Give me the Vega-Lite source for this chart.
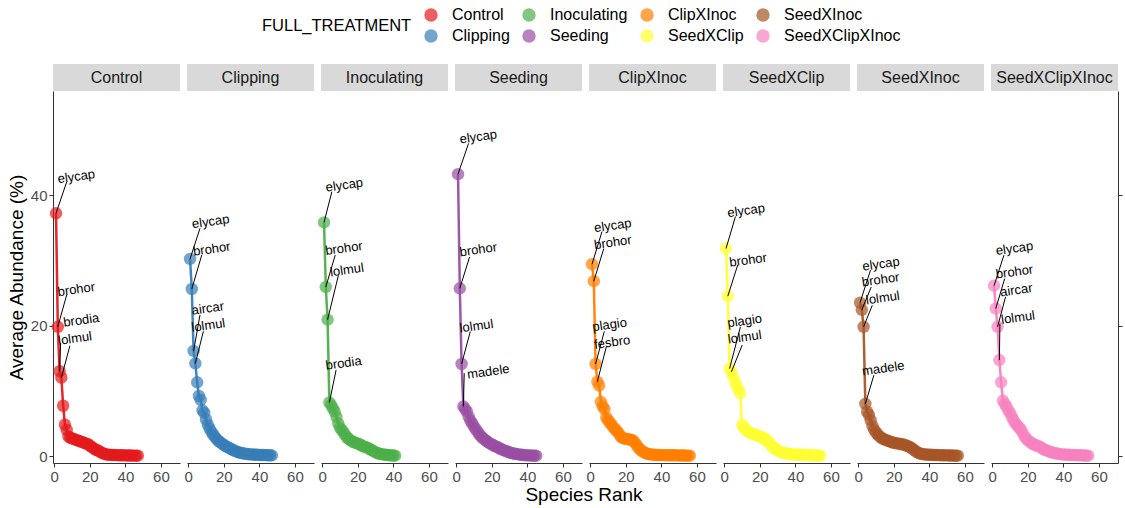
{
  "$schema": "https://vega.github.io/schema/vega-lite/v6.json",
  "padding": {"left": 7, "top": 7, "right": 0, "bottom": 0},
  "config": {
    "font": "Liberation Sans",
    "view": {"stroke": null},
    "axis": {"grid": false, "domainColor": "#333333", "tickColor": "#333333", "labelColor": "#4d4d4d", "labelFontSize": 15, "titleFontSize": 19, "titleFontWeight": "normal", "titleColor": "#000000", "tickSize": 4, "labelPadding": 2},
    "legend": {"labelFontSize": 16, "titleFontSize": 16.5, "titleFontWeight": "normal", "labelColor": "#000000", "titleColor": "#000000"}
  },
  "datasets": {
    "strips": [
      {"treatment": "Control"}, {"treatment": "Clipping"}, {"treatment": "Inoculating"}, {"treatment": "Seeding"},
      {"treatment": "ClipXInoc"}, {"treatment": "SeedXClip"}, {"treatment": "SeedXInoc"}, {"treatment": "SeedXClipXInoc"}
    ],
    "ranks": [
      {"treatment":"Control","rank":1,"abundance":37.2,"species":"elycap","label_x":12.4,"label_y":42.8,"seg_x":7.0,"seg_y":42.0},
      {"treatment":"Control","rank":2,"abundance":19.8,"species":"brohor","label_x":12.4,"label_y":25.5,"seg_x":7.0,"seg_y":24.7},
      {"treatment":"Control","rank":3,"abundance":13.0,"species":"brodia","label_x":15.2,"label_y":20.8,"seg_x":3.6,"seg_y":17.3},
      {"treatment":"Control","rank":4,"abundance":12.0,"species":"lolmul","label_x":11.7,"label_y":18.0,"seg_x":8.8,"seg_y":16.9},
      {"treatment":"Control","rank":5,"abundance":7.7},{"treatment":"Control","rank":6,"abundance":4.8},{"treatment":"Control","rank":7,"abundance":4.0},{"treatment":"Control","rank":8,"abundance":3.0},{"treatment":"Control","rank":9,"abundance":2.8},{"treatment":"Control","rank":10,"abundance":2.7},
      {"treatment":"Control","rank":11,"abundance":2.6},{"treatment":"Control","rank":12,"abundance":2.5},{"treatment":"Control","rank":13,"abundance":2.4},{"treatment":"Control","rank":14,"abundance":2.3},{"treatment":"Control","rank":15,"abundance":2.2},{"treatment":"Control","rank":16,"abundance":2.1},{"treatment":"Control","rank":17,"abundance":2.0},{"treatment":"Control","rank":18,"abundance":1.9},{"treatment":"Control","rank":19,"abundance":1.8},{"treatment":"Control","rank":20,"abundance":1.6},
      {"treatment":"Control","rank":21,"abundance":1.4},{"treatment":"Control","rank":22,"abundance":1.2},{"treatment":"Control","rank":23,"abundance":1.0},{"treatment":"Control","rank":24,"abundance":0.9},{"treatment":"Control","rank":25,"abundance":0.8},{"treatment":"Control","rank":26,"abundance":0.6},{"treatment":"Control","rank":27,"abundance":0.45},{"treatment":"Control","rank":28,"abundance":0.35},{"treatment":"Control","rank":29,"abundance":0.25},{"treatment":"Control","rank":30,"abundance":0.2},
      {"treatment":"Control","rank":31,"abundance":0.18},{"treatment":"Control","rank":32,"abundance":0.17},{"treatment":"Control","rank":33,"abundance":0.16},{"treatment":"Control","rank":34,"abundance":0.15},{"treatment":"Control","rank":35,"abundance":0.14},{"treatment":"Control","rank":36,"abundance":0.13},{"treatment":"Control","rank":37,"abundance":0.12},{"treatment":"Control","rank":38,"abundance":0.11},{"treatment":"Control","rank":39,"abundance":0.1},{"treatment":"Control","rank":40,"abundance":0.1},
      {"treatment":"Control","rank":41,"abundance":0.09},{"treatment":"Control","rank":42,"abundance":0.08},{"treatment":"Control","rank":43,"abundance":0.07},{"treatment":"Control","rank":44,"abundance":0.06},{"treatment":"Control","rank":45,"abundance":0.06},{"treatment":"Control","rank":46,"abundance":0.05},{"treatment":"Control","rank":47,"abundance":0.05},

      {"treatment":"Clipping","rank":1,"abundance":30.2,"species":"elycap","label_x":12.6,"label_y":35.9,"seg_x":6.6,"seg_y":34.9},
      {"treatment":"Clipping","rank":2,"abundance":25.6,"species":"brohor","label_x":13.2,"label_y":31.7,"seg_x":7.6,"seg_y":30.8},
      {"treatment":"Clipping","rank":3,"abundance":16.1,"species":"aircar","label_x":11.0,"label_y":22.6,"seg_x":6.6,"seg_y":21.6},
      {"treatment":"Clipping","rank":4,"abundance":14.2,"species":"lolmul","label_x":11.3,"label_y":20.0,"seg_x":8.5,"seg_y":19.1},
      {"treatment":"Clipping","rank":5,"abundance":11.3},{"treatment":"Clipping","rank":6,"abundance":9.2},{"treatment":"Clipping","rank":7,"abundance":8.6},{"treatment":"Clipping","rank":8,"abundance":7.0},{"treatment":"Clipping","rank":9,"abundance":6.6},{"treatment":"Clipping","rank":10,"abundance":5.6},
      {"treatment":"Clipping","rank":11,"abundance":4.8},{"treatment":"Clipping","rank":12,"abundance":4.2},{"treatment":"Clipping","rank":13,"abundance":3.7},{"treatment":"Clipping","rank":14,"abundance":3.3},{"treatment":"Clipping","rank":15,"abundance":2.9},{"treatment":"Clipping","rank":16,"abundance":2.6},{"treatment":"Clipping","rank":17,"abundance":2.3},{"treatment":"Clipping","rank":18,"abundance":2.1},{"treatment":"Clipping","rank":19,"abundance":1.9},{"treatment":"Clipping","rank":20,"abundance":1.7},
      {"treatment":"Clipping","rank":21,"abundance":1.5},{"treatment":"Clipping","rank":22,"abundance":1.4},{"treatment":"Clipping","rank":23,"abundance":1.2},{"treatment":"Clipping","rank":24,"abundance":1.1},{"treatment":"Clipping","rank":25,"abundance":0.95},{"treatment":"Clipping","rank":26,"abundance":0.8},{"treatment":"Clipping","rank":27,"abundance":0.7},{"treatment":"Clipping","rank":28,"abundance":0.6},{"treatment":"Clipping","rank":29,"abundance":0.5},{"treatment":"Clipping","rank":30,"abundance":0.45},
      {"treatment":"Clipping","rank":31,"abundance":0.4},{"treatment":"Clipping","rank":32,"abundance":0.35},{"treatment":"Clipping","rank":33,"abundance":0.3},{"treatment":"Clipping","rank":34,"abundance":0.28},{"treatment":"Clipping","rank":35,"abundance":0.25},{"treatment":"Clipping","rank":36,"abundance":0.22},{"treatment":"Clipping","rank":37,"abundance":0.2},{"treatment":"Clipping","rank":38,"abundance":0.19},{"treatment":"Clipping","rank":39,"abundance":0.18},{"treatment":"Clipping","rank":40,"abundance":0.17},
      {"treatment":"Clipping","rank":41,"abundance":0.16},{"treatment":"Clipping","rank":42,"abundance":0.15},{"treatment":"Clipping","rank":43,"abundance":0.14},{"treatment":"Clipping","rank":44,"abundance":0.13},{"treatment":"Clipping","rank":45,"abundance":0.12},{"treatment":"Clipping","rank":46,"abundance":0.11},{"treatment":"Clipping","rank":47,"abundance":0.1},

      {"treatment":"Inoculating","rank":1,"abundance":35.8,"species":"elycap","label_x":12.4,"label_y":41.5,"seg_x":5.4,"seg_y":40.5},
      {"treatment":"Inoculating","rank":2,"abundance":25.9,"species":"brohor","label_x":12.2,"label_y":31.8,"seg_x":7.3,"seg_y":30.8},
      {"treatment":"Inoculating","rank":3,"abundance":20.9,"species":"lolmul","label_x":13.9,"label_y":28.5,"seg_x":9.1,"seg_y":27.7},
      {"treatment":"Inoculating","rank":4,"abundance":8.2,"species":"brodia","label_x":12.0,"label_y":14.2,"seg_x":7.8,"seg_y":13.2},
      {"treatment":"Inoculating","rank":5,"abundance":7.8},{"treatment":"Inoculating","rank":6,"abundance":7.3},{"treatment":"Inoculating","rank":7,"abundance":6.8},{"treatment":"Inoculating","rank":8,"abundance":6.0},{"treatment":"Inoculating","rank":9,"abundance":5.0},{"treatment":"Inoculating","rank":10,"abundance":4.3},
      {"treatment":"Inoculating","rank":11,"abundance":4.0},{"treatment":"Inoculating","rank":12,"abundance":3.6},{"treatment":"Inoculating","rank":13,"abundance":3.2},{"treatment":"Inoculating","rank":14,"abundance":2.8},{"treatment":"Inoculating","rank":15,"abundance":2.6},{"treatment":"Inoculating","rank":16,"abundance":2.4},{"treatment":"Inoculating","rank":17,"abundance":2.2},{"treatment":"Inoculating","rank":18,"abundance":2.1},{"treatment":"Inoculating","rank":19,"abundance":2.0},{"treatment":"Inoculating","rank":20,"abundance":1.9},
      {"treatment":"Inoculating","rank":21,"abundance":1.8},{"treatment":"Inoculating","rank":22,"abundance":1.6},{"treatment":"Inoculating","rank":23,"abundance":1.5},{"treatment":"Inoculating","rank":24,"abundance":1.4},{"treatment":"Inoculating","rank":25,"abundance":1.3},{"treatment":"Inoculating","rank":26,"abundance":1.2},{"treatment":"Inoculating","rank":27,"abundance":1.0},{"treatment":"Inoculating","rank":28,"abundance":0.9},{"treatment":"Inoculating","rank":29,"abundance":0.7},{"treatment":"Inoculating","rank":30,"abundance":0.55},
      {"treatment":"Inoculating","rank":31,"abundance":0.45},{"treatment":"Inoculating","rank":32,"abundance":0.35},{"treatment":"Inoculating","rank":33,"abundance":0.3},{"treatment":"Inoculating","rank":34,"abundance":0.25},{"treatment":"Inoculating","rank":35,"abundance":0.2},{"treatment":"Inoculating","rank":36,"abundance":0.18},{"treatment":"Inoculating","rank":37,"abundance":0.15},{"treatment":"Inoculating","rank":38,"abundance":0.12},{"treatment":"Inoculating","rank":39,"abundance":0.1},{"treatment":"Inoculating","rank":40,"abundance":0.08},
      {"treatment":"Inoculating","rank":41,"abundance":0.05},

      {"treatment":"Seeding","rank":1,"abundance":43.2,"species":"elycap","label_x":12.4,"label_y":48.9,"seg_x":6.9,"seg_y":47.9},
      {"treatment":"Seeding","rank":2,"abundance":25.7,"species":"brohor","label_x":12.4,"label_y":31.6,"seg_x":7.5,"seg_y":30.5},
      {"treatment":"Seeding","rank":3,"abundance":14.1,"species":"lolmul","label_x":11.4,"label_y":19.9,"seg_x":7.9,"seg_y":19.1},
      {"treatment":"Seeding","rank":4,"abundance":7.6,"species":"madele","label_x":18.0,"label_y":12.9,"seg_x":4.5,"seg_y":12.7},
      {"treatment":"Seeding","rank":5,"abundance":7.2},{"treatment":"Seeding","rank":6,"abundance":6.8},{"treatment":"Seeding","rank":7,"abundance":6.0},{"treatment":"Seeding","rank":8,"abundance":5.4},{"treatment":"Seeding","rank":9,"abundance":5.0},{"treatment":"Seeding","rank":10,"abundance":4.5},
      {"treatment":"Seeding","rank":11,"abundance":4.1},{"treatment":"Seeding","rank":12,"abundance":3.7},{"treatment":"Seeding","rank":13,"abundance":3.3},{"treatment":"Seeding","rank":14,"abundance":3.0},{"treatment":"Seeding","rank":15,"abundance":2.7},{"treatment":"Seeding","rank":16,"abundance":2.5},{"treatment":"Seeding","rank":17,"abundance":2.3},{"treatment":"Seeding","rank":18,"abundance":2.1},{"treatment":"Seeding","rank":19,"abundance":1.9},{"treatment":"Seeding","rank":20,"abundance":1.8},
      {"treatment":"Seeding","rank":21,"abundance":1.6},{"treatment":"Seeding","rank":22,"abundance":1.5},{"treatment":"Seeding","rank":23,"abundance":1.4},{"treatment":"Seeding","rank":24,"abundance":1.2},{"treatment":"Seeding","rank":25,"abundance":1.1},{"treatment":"Seeding","rank":26,"abundance":0.95},{"treatment":"Seeding","rank":27,"abundance":0.85},{"treatment":"Seeding","rank":28,"abundance":0.75},{"treatment":"Seeding","rank":29,"abundance":0.65},{"treatment":"Seeding","rank":30,"abundance":0.55},
      {"treatment":"Seeding","rank":31,"abundance":0.45},{"treatment":"Seeding","rank":32,"abundance":0.4},{"treatment":"Seeding","rank":33,"abundance":0.35},{"treatment":"Seeding","rank":34,"abundance":0.3},{"treatment":"Seeding","rank":35,"abundance":0.25},{"treatment":"Seeding","rank":36,"abundance":0.2},{"treatment":"Seeding","rank":37,"abundance":0.18},{"treatment":"Seeding","rank":38,"abundance":0.15},{"treatment":"Seeding","rank":39,"abundance":0.12},{"treatment":"Seeding","rank":40,"abundance":0.1},
      {"treatment":"Seeding","rank":41,"abundance":0.1},{"treatment":"Seeding","rank":42,"abundance":0.08},{"treatment":"Seeding","rank":43,"abundance":0.06},{"treatment":"Seeding","rank":44,"abundance":0.05},{"treatment":"Seeding","rank":45,"abundance":0.05},

      {"treatment":"ClipXInoc","rank":1,"abundance":29.4,"species":"elycap","label_x":12.7,"label_y":35.3,"seg_x":6.6,"seg_y":34.4},
      {"treatment":"ClipXInoc","rank":2,"abundance":26.8,"species":"brohor","label_x":12.7,"label_y":32.7,"seg_x":7.6,"seg_y":31.8},
      {"treatment":"ClipXInoc","rank":3,"abundance":14.1,"species":"plagio","label_x":10.9,"label_y":20.1,"seg_x":7.9,"seg_y":19.1},
      {"treatment":"ClipXInoc","rank":4,"abundance":11.4,"species":"fesbro","label_x":12.3,"label_y":17.4,"seg_x":9.1,"seg_y":16.8},
      {"treatment":"ClipXInoc","rank":5,"abundance":10.8},{"treatment":"ClipXInoc","rank":6,"abundance":8.3},{"treatment":"ClipXInoc","rank":7,"abundance":7.6},{"treatment":"ClipXInoc","rank":8,"abundance":7.2},{"treatment":"ClipXInoc","rank":9,"abundance":5.9},{"treatment":"ClipXInoc","rank":10,"abundance":5.5},
      {"treatment":"ClipXInoc","rank":11,"abundance":5.1},{"treatment":"ClipXInoc","rank":12,"abundance":4.8},{"treatment":"ClipXInoc","rank":13,"abundance":4.4},{"treatment":"ClipXInoc","rank":14,"abundance":4.1},{"treatment":"ClipXInoc","rank":15,"abundance":3.8},{"treatment":"ClipXInoc","rank":16,"abundance":3.5},{"treatment":"ClipXInoc","rank":17,"abundance":3.0},{"treatment":"ClipXInoc","rank":18,"abundance":2.8},{"treatment":"ClipXInoc","rank":19,"abundance":2.7},{"treatment":"ClipXInoc","rank":20,"abundance":2.6},
      {"treatment":"ClipXInoc","rank":21,"abundance":2.6},{"treatment":"ClipXInoc","rank":22,"abundance":2.5},{"treatment":"ClipXInoc","rank":23,"abundance":2.5},{"treatment":"ClipXInoc","rank":24,"abundance":2.4},{"treatment":"ClipXInoc","rank":25,"abundance":2.1},{"treatment":"ClipXInoc","rank":26,"abundance":1.7},{"treatment":"ClipXInoc","rank":27,"abundance":1.3},{"treatment":"ClipXInoc","rank":28,"abundance":1.0},{"treatment":"ClipXInoc","rank":29,"abundance":0.8},{"treatment":"ClipXInoc","rank":30,"abundance":0.6},
      {"treatment":"ClipXInoc","rank":31,"abundance":0.45},{"treatment":"ClipXInoc","rank":32,"abundance":0.35},{"treatment":"ClipXInoc","rank":33,"abundance":0.3},{"treatment":"ClipXInoc","rank":34,"abundance":0.25},{"treatment":"ClipXInoc","rank":35,"abundance":0.2},{"treatment":"ClipXInoc","rank":36,"abundance":0.18},{"treatment":"ClipXInoc","rank":37,"abundance":0.16},{"treatment":"ClipXInoc","rank":38,"abundance":0.15},{"treatment":"ClipXInoc","rank":39,"abundance":0.15},{"treatment":"ClipXInoc","rank":40,"abundance":0.14},
      {"treatment":"ClipXInoc","rank":41,"abundance":0.14},{"treatment":"ClipXInoc","rank":42,"abundance":0.13},{"treatment":"ClipXInoc","rank":43,"abundance":0.13},{"treatment":"ClipXInoc","rank":44,"abundance":0.12},{"treatment":"ClipXInoc","rank":45,"abundance":0.12},{"treatment":"ClipXInoc","rank":46,"abundance":0.11},{"treatment":"ClipXInoc","rank":47,"abundance":0.11},{"treatment":"ClipXInoc","rank":48,"abundance":0.1},{"treatment":"ClipXInoc","rank":49,"abundance":0.1},{"treatment":"ClipXInoc","rank":50,"abundance":0.09},
      {"treatment":"ClipXInoc","rank":51,"abundance":0.09},{"treatment":"ClipXInoc","rank":52,"abundance":0.08},{"treatment":"ClipXInoc","rank":53,"abundance":0.07},{"treatment":"ClipXInoc","rank":54,"abundance":0.06},{"treatment":"ClipXInoc","rank":55,"abundance":0.06},{"treatment":"ClipXInoc","rank":56,"abundance":0.05},

      {"treatment":"SeedXClip","rank":1,"abundance":31.8,"species":"elycap","label_x":12.3,"label_y":37.6,"seg_x":6.3,"seg_y":36.7},
      {"treatment":"SeedXClip","rank":2,"abundance":24.5,"species":"brohor","label_x":13.4,"label_y":30.0,"seg_x":7.6,"seg_y":29.3},
      {"treatment":"SeedXClip","rank":3,"abundance":13.4,"species":"plagio","label_x":11.5,"label_y":20.7,"seg_x":9.1,"seg_y":19.8},
      {"treatment":"SeedXClip","rank":4,"abundance":12.9,"species":"lolmul","label_x":11.5,"label_y":18.2,"seg_x":10.1,"seg_y":17.0},
      {"treatment":"SeedXClip","rank":5,"abundance":12.2},{"treatment":"SeedXClip","rank":6,"abundance":11.4},{"treatment":"SeedXClip","rank":7,"abundance":10.8},{"treatment":"SeedXClip","rank":8,"abundance":10.2},{"treatment":"SeedXClip","rank":9,"abundance":9.6},{"treatment":"SeedXClip","rank":10,"abundance":4.8},
      {"treatment":"SeedXClip","rank":11,"abundance":4.4},{"treatment":"SeedXClip","rank":12,"abundance":4.1},{"treatment":"SeedXClip","rank":13,"abundance":3.8},{"treatment":"SeedXClip","rank":14,"abundance":3.6},{"treatment":"SeedXClip","rank":15,"abundance":3.5},{"treatment":"SeedXClip","rank":16,"abundance":3.4},{"treatment":"SeedXClip","rank":17,"abundance":3.3},{"treatment":"SeedXClip","rank":18,"abundance":3.2},{"treatment":"SeedXClip","rank":19,"abundance":3.1},{"treatment":"SeedXClip","rank":20,"abundance":3.0},
      {"treatment":"SeedXClip","rank":21,"abundance":2.9},{"treatment":"SeedXClip","rank":22,"abundance":2.8},{"treatment":"SeedXClip","rank":23,"abundance":2.6},{"treatment":"SeedXClip","rank":24,"abundance":2.4},{"treatment":"SeedXClip","rank":25,"abundance":2.1},{"treatment":"SeedXClip","rank":26,"abundance":1.8},{"treatment":"SeedXClip","rank":27,"abundance":1.5},{"treatment":"SeedXClip","rank":28,"abundance":1.2},{"treatment":"SeedXClip","rank":29,"abundance":1.0},{"treatment":"SeedXClip","rank":30,"abundance":0.85},
      {"treatment":"SeedXClip","rank":31,"abundance":0.7},{"treatment":"SeedXClip","rank":32,"abundance":0.6},{"treatment":"SeedXClip","rank":33,"abundance":0.5},{"treatment":"SeedXClip","rank":34,"abundance":0.45},{"treatment":"SeedXClip","rank":35,"abundance":0.4},{"treatment":"SeedXClip","rank":36,"abundance":0.35},{"treatment":"SeedXClip","rank":37,"abundance":0.3},{"treatment":"SeedXClip","rank":38,"abundance":0.25},{"treatment":"SeedXClip","rank":39,"abundance":0.24},{"treatment":"SeedXClip","rank":40,"abundance":0.22},
      {"treatment":"SeedXClip","rank":41,"abundance":0.2},{"treatment":"SeedXClip","rank":42,"abundance":0.19},{"treatment":"SeedXClip","rank":43,"abundance":0.18},{"treatment":"SeedXClip","rank":44,"abundance":0.17},{"treatment":"SeedXClip","rank":45,"abundance":0.16},{"treatment":"SeedXClip","rank":46,"abundance":0.15},{"treatment":"SeedXClip","rank":47,"abundance":0.14},{"treatment":"SeedXClip","rank":48,"abundance":0.13},{"treatment":"SeedXClip","rank":49,"abundance":0.12},{"treatment":"SeedXClip","rank":50,"abundance":0.1},
      {"treatment":"SeedXClip","rank":51,"abundance":0.09},{"treatment":"SeedXClip","rank":52,"abundance":0.08},{"treatment":"SeedXClip","rank":53,"abundance":0.06},{"treatment":"SeedXClip","rank":54,"abundance":0.05},

      {"treatment":"SeedXInoc","rank":1,"abundance":23.5,"species":"elycap","label_x":12.8,"label_y":29.4,"seg_x":6.9,"seg_y":28.5},
      {"treatment":"SeedXInoc","rank":2,"abundance":22.4,"species":"brohor","label_x":12.6,"label_y":27.0,"seg_x":7.3,"seg_y":25.9},
      {"treatment":"SeedXInoc","rank":3,"abundance":19.8,"species":"lolmul","label_x":13.8,"label_y":24.2,"seg_x":7.9,"seg_y":23.1},
      {"treatment":"SeedXInoc","rank":4,"abundance":8.0,"species":"madele","label_x":14.1,"label_y":13.4,"seg_x":8.8,"seg_y":12.4},
      {"treatment":"SeedXInoc","rank":5,"abundance":6.8},{"treatment":"SeedXInoc","rank":6,"abundance":6.3},{"treatment":"SeedXInoc","rank":7,"abundance":5.5},{"treatment":"SeedXInoc","rank":8,"abundance":4.6},{"treatment":"SeedXInoc","rank":9,"abundance":4.0},{"treatment":"SeedXInoc","rank":10,"abundance":3.6},
      {"treatment":"SeedXInoc","rank":11,"abundance":3.3},{"treatment":"SeedXInoc","rank":12,"abundance":3.0},{"treatment":"SeedXInoc","rank":13,"abundance":2.8},{"treatment":"SeedXInoc","rank":14,"abundance":2.6},{"treatment":"SeedXInoc","rank":15,"abundance":2.5},{"treatment":"SeedXInoc","rank":16,"abundance":2.4},{"treatment":"SeedXInoc","rank":17,"abundance":2.3},{"treatment":"SeedXInoc","rank":18,"abundance":2.2},{"treatment":"SeedXInoc","rank":19,"abundance":2.1},{"treatment":"SeedXInoc","rank":20,"abundance":2.0},
      {"treatment":"SeedXInoc","rank":21,"abundance":2.0},{"treatment":"SeedXInoc","rank":22,"abundance":1.9},{"treatment":"SeedXInoc","rank":23,"abundance":1.9},{"treatment":"SeedXInoc","rank":24,"abundance":1.8},{"treatment":"SeedXInoc","rank":25,"abundance":1.8},{"treatment":"SeedXInoc","rank":26,"abundance":1.7},{"treatment":"SeedXInoc","rank":27,"abundance":1.6},{"treatment":"SeedXInoc","rank":28,"abundance":1.5},{"treatment":"SeedXInoc","rank":29,"abundance":1.4},{"treatment":"SeedXInoc","rank":30,"abundance":1.2},
      {"treatment":"SeedXInoc","rank":31,"abundance":1.0},{"treatment":"SeedXInoc","rank":32,"abundance":0.8},{"treatment":"SeedXInoc","rank":33,"abundance":0.6},{"treatment":"SeedXInoc","rank":34,"abundance":0.45},{"treatment":"SeedXInoc","rank":35,"abundance":0.35},{"treatment":"SeedXInoc","rank":36,"abundance":0.3},{"treatment":"SeedXInoc","rank":37,"abundance":0.25},{"treatment":"SeedXInoc","rank":38,"abundance":0.22},{"treatment":"SeedXInoc","rank":39,"abundance":0.2},{"treatment":"SeedXInoc","rank":40,"abundance":0.19},
      {"treatment":"SeedXInoc","rank":41,"abundance":0.18},{"treatment":"SeedXInoc","rank":42,"abundance":0.17},{"treatment":"SeedXInoc","rank":43,"abundance":0.16},{"treatment":"SeedXInoc","rank":44,"abundance":0.15},{"treatment":"SeedXInoc","rank":45,"abundance":0.14},{"treatment":"SeedXInoc","rank":46,"abundance":0.13},{"treatment":"SeedXInoc","rank":47,"abundance":0.12},{"treatment":"SeedXInoc","rank":48,"abundance":0.11},{"treatment":"SeedXInoc","rank":49,"abundance":0.1},{"treatment":"SeedXInoc","rank":50,"abundance":0.1},
      {"treatment":"SeedXInoc","rank":51,"abundance":0.09},{"treatment":"SeedXInoc","rank":52,"abundance":0.08},{"treatment":"SeedXInoc","rank":53,"abundance":0.07},{"treatment":"SeedXInoc","rank":54,"abundance":0.06},{"treatment":"SeedXInoc","rank":55,"abundance":0.05},{"treatment":"SeedXInoc","rank":56,"abundance":0.05},

      {"treatment":"SeedXClipXInoc","rank":1,"abundance":26.1,"species":"elycap","label_x":12.5,"label_y":31.8,"seg_x":6.6,"seg_y":30.8},
      {"treatment":"SeedXClipXInoc","rank":2,"abundance":22.6,"species":"brohor","label_x":12.5,"label_y":28.2,"seg_x":7.0,"seg_y":27.2},
      {"treatment":"SeedXClipXInoc","rank":3,"abundance":19.8,"species":"aircar","label_x":13.5,"label_y":25.4,"seg_x":7.5,"seg_y":24.4},
      {"treatment":"SeedXClipXInoc","rank":4,"abundance":14.7,"species":"lolmul","label_x":14.5,"label_y":21.2,"seg_x":4.3,"seg_y":20.3},
      {"treatment":"SeedXClipXInoc","rank":5,"abundance":11.3},{"treatment":"SeedXClipXInoc","rank":6,"abundance":8.5},{"treatment":"SeedXClipXInoc","rank":7,"abundance":8.0},{"treatment":"SeedXClipXInoc","rank":8,"abundance":7.6},{"treatment":"SeedXClipXInoc","rank":9,"abundance":7.0},{"treatment":"SeedXClipXInoc","rank":10,"abundance":6.6},
      {"treatment":"SeedXClipXInoc","rank":11,"abundance":6.0},{"treatment":"SeedXClipXInoc","rank":12,"abundance":5.5},{"treatment":"SeedXClipXInoc","rank":13,"abundance":5.0},{"treatment":"SeedXClipXInoc","rank":14,"abundance":4.7},{"treatment":"SeedXClipXInoc","rank":15,"abundance":4.4},{"treatment":"SeedXClipXInoc","rank":16,"abundance":4.1},{"treatment":"SeedXClipXInoc","rank":17,"abundance":3.6},{"treatment":"SeedXClipXInoc","rank":18,"abundance":3.1},{"treatment":"SeedXClipXInoc","rank":19,"abundance":2.7},{"treatment":"SeedXClipXInoc","rank":20,"abundance":2.4},
      {"treatment":"SeedXClipXInoc","rank":21,"abundance":2.2},{"treatment":"SeedXClipXInoc","rank":22,"abundance":2.0},{"treatment":"SeedXClipXInoc","rank":23,"abundance":1.8},{"treatment":"SeedXClipXInoc","rank":24,"abundance":1.7},{"treatment":"SeedXClipXInoc","rank":25,"abundance":1.6},{"treatment":"SeedXClipXInoc","rank":26,"abundance":1.5},{"treatment":"SeedXClipXInoc","rank":27,"abundance":1.4},{"treatment":"SeedXClipXInoc","rank":28,"abundance":1.2},{"treatment":"SeedXClipXInoc","rank":29,"abundance":1.0},{"treatment":"SeedXClipXInoc","rank":30,"abundance":0.9},
      {"treatment":"SeedXClipXInoc","rank":31,"abundance":0.8},{"treatment":"SeedXClipXInoc","rank":32,"abundance":0.7},{"treatment":"SeedXClipXInoc","rank":33,"abundance":0.6},{"treatment":"SeedXClipXInoc","rank":34,"abundance":0.5},{"treatment":"SeedXClipXInoc","rank":35,"abundance":0.45},{"treatment":"SeedXClipXInoc","rank":36,"abundance":0.4},{"treatment":"SeedXClipXInoc","rank":37,"abundance":0.35},{"treatment":"SeedXClipXInoc","rank":38,"abundance":0.3},{"treatment":"SeedXClipXInoc","rank":39,"abundance":0.25},{"treatment":"SeedXClipXInoc","rank":40,"abundance":0.22},
      {"treatment":"SeedXClipXInoc","rank":41,"abundance":0.2},{"treatment":"SeedXClipXInoc","rank":42,"abundance":0.19},{"treatment":"SeedXClipXInoc","rank":43,"abundance":0.18},{"treatment":"SeedXClipXInoc","rank":44,"abundance":0.17},{"treatment":"SeedXClipXInoc","rank":45,"abundance":0.16},{"treatment":"SeedXClipXInoc","rank":46,"abundance":0.15},{"treatment":"SeedXClipXInoc","rank":47,"abundance":0.14},{"treatment":"SeedXClipXInoc","rank":48,"abundance":0.13},{"treatment":"SeedXClipXInoc","rank":49,"abundance":0.12},{"treatment":"SeedXClipXInoc","rank":50,"abundance":0.1},
      {"treatment":"SeedXClipXInoc","rank":51,"abundance":0.09},{"treatment":"SeedXClipXInoc","rank":52,"abundance":0.08},{"treatment":"SeedXClipXInoc","rank":53,"abundance":0.06},{"treatment":"SeedXClipXInoc","rank":54,"abundance":0.05}
    ]
  },
  "spacing": 0,
  "vconcat": [
    {
      "data": {"name": "strips"},
      "facet": {"column": {"field": "treatment", "sort": ["Control","Clipping","Inoculating","Seeding","ClipXInoc","SeedXClip","SeedXInoc","SeedXClipXInoc"], "title": null, "header": {"labels": false, "title": null, "labelPadding": 0, "titlePadding": 0}}},
      "spacing": {"column": 7},
      "bounds": "flush",
      "spec": {
        "width": 127,
        "height": 27,
        "view": {"fill": "#d9d9d9", "stroke": null},
        "mark": {"type": "text", "fontSize": 16, "color": "#1a1a1a", "font": "Liberation Sans"},
        "encoding": {"text": {"field": "treatment"}}
      }
    },
    {
      "data": {"name": "ranks"},
      "facet": {"column": {"field": "treatment", "sort": ["Control","Clipping","Inoculating","Seeding","ClipXInoc","SeedXClip","SeedXInoc","SeedXClipXInoc"], "title": "Species Rank", "header": {"labels": false, "titleOrient": "bottom", "titleFontSize": 19, "titleFontWeight": "normal", "titleColor": "#000000", "titlePadding": -8, "labelPadding": 0}}},
      "spacing": {"column": 7},
      "bounds": "flush",
      "spec": {
        "width": 127,
        "height": 372,
        "layer": [
          {
            "encoding": {
              "x": {"field": "rank", "type": "quantitative", "scale": {"domain": [-0.7, 70.7], "nice": false, "zero": false}, "axis": {"values": [0, 20, 40, 60], "title": null}},
              "y": {"field": "abundance", "type": "quantitative", "scale": {"domain": [-1.07, 55.94], "nice": false, "zero": false}, "axis": {"orient": "left", "values": [0, 20, 40], "title": "Average Abundance (%)", "titlePadding": 4}}
            },
            "layer": [
              {
                "mark": {"type": "line", "strokeWidth": 2.5, "opacity": 0.95},
                "encoding": {
                  "color": {"field": "treatment", "type": "nominal",
                    "scale": {"domain": ["Control","Inoculating","ClipXInoc","SeedXInoc","Clipping","Seeding","SeedXClip","SeedXClipXInoc"], "range": ["#E41A1C","#4DAF4A","#FF7F00","#A65628","#377EB8","#984EA3","#FFFF33","#F781BF"]},
                    "legend": {"title": "FULL_TREATMENT", "orient": "none", "legendX": 209, "legendY": -57, "direction": "horizontal", "columns": 4, "titleOrient": "left", "titleAnchor": "middle", "titleBaseline": "middle", "symbolType": "circle", "symbolSize": 180, "symbolOpacity": 0.7, "symbolStrokeWidth": 0, "columnPadding": 11, "rowPadding": 5, "labelOffset": 13, "titlePadding": 11}
                  }
                }
              },
              {
                "mark": {"type": "circle", "size": 155, "opacity": 0.7},
                "encoding": {"color": {"field": "treatment", "type": "nominal"}}
              },
              {
                "transform": [{"filter": "datum.species != null"}],
                "mark": {"type": "rule", "color": "#000000", "strokeWidth": 1},
                "encoding": {"x2": {"field": "seg_x"}, "y2": {"field": "seg_y"}}
              },
              {
                "transform": [{"filter": "datum.species != null"}],
                "mark": {"type": "text", "fontSize": 13, "angle": -8, "color": "#000000", "font": "Liberation Sans"},
                "encoding": {
                  "x": {"field": "label_x", "type": "quantitative"},
                  "y": {"field": "label_y", "type": "quantitative"},
                  "text": {"field": "species"}
                }
              }
            ]
          },
          {
            "mark": {"type": "point", "opacity": 0},
            "encoding": {
              "x": {"field": "rank", "type": "quantitative"},
              "y": {"field": "abundance", "type": "quantitative", "axis": {"orient": "right", "values": [0, 20, 40], "labels": false, "title": null}}
            }
          }
        ],
        "resolve": {"axis": {"y": "independent"}}
      }
    }
  ]
}
